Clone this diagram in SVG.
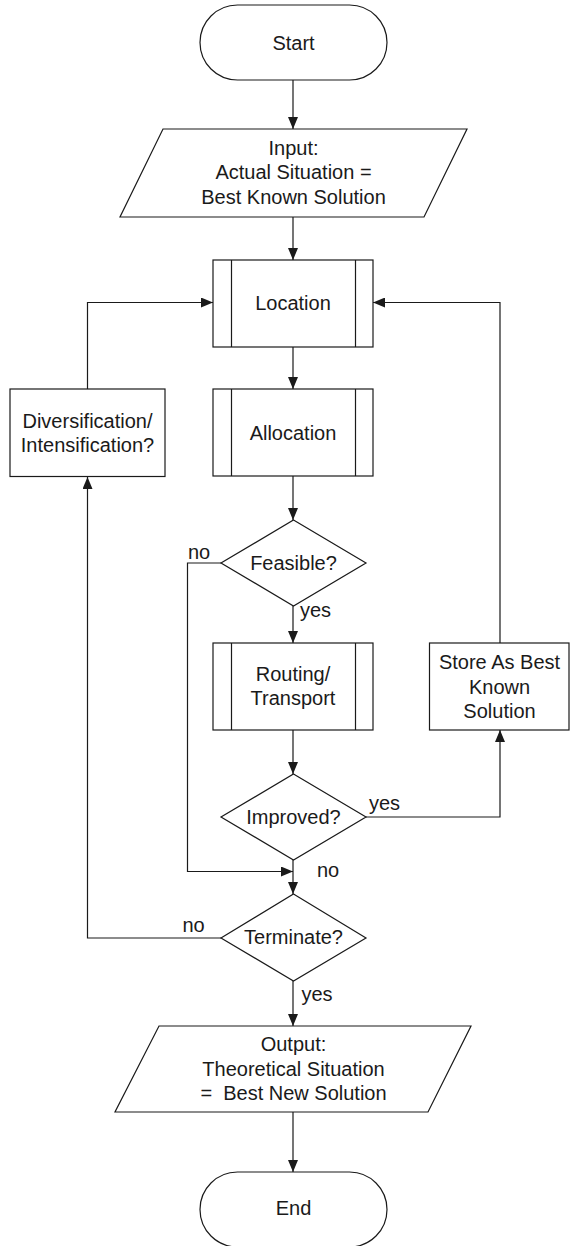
<svg xmlns="http://www.w3.org/2000/svg" width="571" height="1246" viewBox="0 0 571 1246">
<style>
.shape{fill:#fff;stroke:#1a1a1a;stroke-width:1.2}
.conn{fill:none;stroke:#1a1a1a;stroke-width:1.2}
.t{font-family:"Liberation Sans",Arial,sans-serif;font-size:20px;fill:#1a1a1a;text-anchor:middle}
.l{font-family:"Liberation Sans",Arial,sans-serif;font-size:20px;fill:#1a1a1a;text-anchor:start}
</style>
<defs>
<marker id="arr" viewBox="0 0 12 10" refX="12" refY="5" markerWidth="12" markerHeight="10" markerUnits="userSpaceOnUse" orient="auto">
<path d="M0,0 L12,5 L0,10 z" fill="#1a1a1a"/>
</marker>
</defs>
<rect width="571" height="1246" fill="#fff"/>

<g id="connectors">
<line class="conn" x1="293" y1="80" x2="293" y2="129" marker-end="url(#arr)"/>
<line class="conn" x1="293" y1="217" x2="293" y2="260" marker-end="url(#arr)"/>
<line class="conn" x1="293" y1="347" x2="293" y2="389" marker-end="url(#arr)"/>
<line class="conn" x1="293" y1="476" x2="293" y2="520" marker-end="url(#arr)"/>
<line class="conn" x1="293" y1="606" x2="293" y2="643" marker-end="url(#arr)"/>
<line class="conn" x1="293" y1="730" x2="293" y2="774" marker-end="url(#arr)"/>
<line class="conn" x1="293" y1="860" x2="293" y2="894" marker-end="url(#arr)"/>
<line class="conn" x1="293" y1="981" x2="293" y2="1026" marker-end="url(#arr)"/>
<line class="conn" x1="293" y1="1112" x2="293" y2="1172" marker-end="url(#arr)"/>
<polyline class="conn" points="221,563 187.5,563 187.5,871.5 293,871.5" marker-end="url(#arr)"/>
<polyline class="conn" points="366,817 500,817 500,730" marker-end="url(#arr)"/>
<polyline class="conn" points="500,643 500,302.5 373,302.5" marker-end="url(#arr)"/>
<polyline class="conn" points="221,938 87.5,938 87.5,477" marker-end="url(#arr)"/>
<polyline class="conn" points="87.5,389 87.5,302.5 213,302.5" marker-end="url(#arr)"/>
<text class="l" x="188" y="559">no</text>
<text class="l" x="300" y="617">yes</text>
<text class="l" x="369" y="810">yes</text>
<text class="l" x="317" y="877">no</text>
<text class="l" x="182.5" y="931.5">no</text>
<text class="l" x="301.5" y="1001">yes</text>
</g>

<g id="start">
<rect class="shape" x="200" y="5" width="187" height="75" rx="37.5" ry="37.5"/>
<text class="t" x="293.5" y="50">Start</text>
</g>

<g id="input">
<polygon class="shape" points="163,129 467,129 424,217 120,217"/>
<text class="t" x="293.5" y="155">Input:</text>
<text class="t" x="293.5" y="179">Actual Situation =</text>
<text class="t" x="293.5" y="204">Best Known Solution</text>
</g>

<g id="location">
<rect class="shape" x="213" y="260" width="160" height="87"/>
<line class="conn" x1="231.5" y1="260" x2="231.5" y2="347"/>
<line class="conn" x1="355.5" y1="260" x2="355.5" y2="347"/>
<text class="t" x="293" y="310">Location</text>
</g>

<g id="diversification">
<rect class="shape" x="10" y="389" width="155" height="87.5"/>
<text class="t" x="87.5" y="428">Diversification/</text>
<text class="t" x="87.5" y="452">Intensification?</text>
</g>

<g id="allocation">
<rect class="shape" x="213" y="389" width="160" height="87"/>
<line class="conn" x1="231.5" y1="389" x2="231.5" y2="476"/>
<line class="conn" x1="355.5" y1="389" x2="355.5" y2="476"/>
<text class="t" x="293" y="440">Allocation</text>
</g>

<g id="feasible">
<polygon class="shape" points="293.5,520 366,563 293.5,606 221,563"/>
<text class="t" x="293.5" y="570">Feasible?</text>
</g>

<g id="routing">
<rect class="shape" x="213" y="643" width="160" height="87"/>
<line class="conn" x1="231.5" y1="643" x2="231.5" y2="730"/>
<line class="conn" x1="355.5" y1="643" x2="355.5" y2="730"/>
<text class="t" x="293" y="681">Routing/</text>
<text class="t" x="293" y="704.5">Transport</text>
</g>

<g id="store">
<rect class="shape" x="429.5" y="643" width="139.5" height="87"/>
<text class="t" x="499.5" y="669">Store As Best</text>
<text class="t" x="499.5" y="693.5">Known</text>
<text class="t" x="499.5" y="718">Solution</text>
</g>

<g id="improved">
<polygon class="shape" points="293.5,774 366,817 293.5,860 221,817"/>
<text class="t" x="293.5" y="823.5">Improved?</text>
</g>

<g id="terminate">
<polygon class="shape" points="293.5,894 366,938 293.5,981 221,938"/>
<text class="t" x="293.5" y="944">Terminate?</text>
</g>

<g id="output">
<polygon class="shape" points="159,1026 471,1026 428,1112 115,1112"/>
<text class="t" x="293.5" y="1051">Output:</text>
<text class="t" x="293.5" y="1076">Theoretical Situation</text>
<text class="t" x="293.5" y="1100" xml:space="preserve">=  Best New Solution</text>
</g>

<g id="end">
<rect class="shape" x="200" y="1172" width="187" height="75" rx="37.5" ry="37.5"/>
<text class="t" x="293.5" y="1215">End</text>
</g>
</svg>
